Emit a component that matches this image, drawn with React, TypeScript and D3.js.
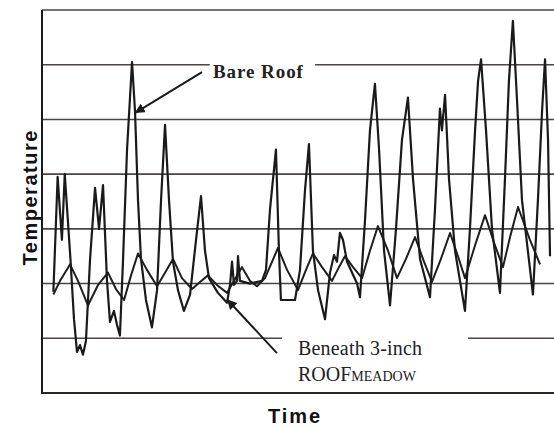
import React, { useEffect, useRef } from 'react';
import * as d3 from 'd3';

// Time in hours since start of record, temperature in deg F
const bareHours = [8, 11, 14, 16, 20, 22.5, 24.6, 26.7, 28.8, 30.9,
  33.8, 37.3, 40.1, 42.9, 45.7, 47.8, 50.6, 52.7, 54.8, 57,
  59.8, 63.3, 65.4, 67.5, 69.6, 73.1, 77.3, 80.9, 83.7, 86.5,
  89.3, 92.1, 95.6, 99.8, 104.1, 108.3, 111.8, 114.6, 117.4, 123.7,
  130.1, 132.2, 133.6, 135, 137.1, 137.8, 139.2, 146.2, 154.7, 157.5,
  160.3, 164.5, 166.6, 168, 177.9, 181.4, 184.9, 187.7, 190.5, 194.1,
  199, 202.5, 205.3, 207.4, 209.5, 211.6, 214.5, 221.5, 223.6, 227.1,
  230.6, 234.1, 237, 240.5, 244.7, 248.9, 253.1, 257.3, 260.9, 265.8,
  272.8, 276.3, 279.8, 281.2, 283.4, 286.2, 290.4, 297.4, 300.9, 304.5,
  306.6, 308.7, 312.2, 316.4, 322, 325.5, 328.3, 331.1, 334, 337.5,
  345.2, 348.7, 351.6, 353.7, 355.8, 357.2];
const bareTemps = [77, 119, 96, 120, 89, 67, 55, 57.5, 54, 59,
  89, 115, 100, 116, 81, 66, 70, 65, 61, 89,
  129, 161, 143, 110.5, 89, 74, 64, 77.6, 110.5, 138,
  110.5, 88, 77.6, 70, 76, 96, 112, 92, 82, 76.6,
  73, 79.5, 88, 79.5, 81, 90, 81, 80, 81, 85,
  107, 129, 92, 74, 74, 85, 114, 131, 92, 77.6,
  67, 84, 90.4, 88, 98.5, 96, 88, 80, 75, 103,
  136, 153, 129, 92, 72, 100, 132.5, 148, 118, 89,
  75, 107, 144, 136, 149, 118, 92, 70, 100, 136,
  154, 162, 136, 100, 76.6, 118, 154, 176, 147, 110.5,
  76, 110.5, 143, 162, 132.5, 90];

const meadowHours = [8, 12.7, 19.7, 25.3, 32.3, 39.4, 46.4, 52, 57.7, 62.6,
  67.5, 73.8, 80.9, 86.5, 92.1, 98.4, 105.5, 111.1, 116.7, 123,
  130.1, 135, 140.6, 146.2, 151.2, 156.8, 165.9, 172.3, 180, 185.6,
  190.5, 196.9, 203.9, 208.8, 213, 218.7, 225, 230.6, 236.2, 243.3,
  249.6, 255.9, 262.3, 268.6, 274.2, 280.5, 286.9, 292.5, 297.4, 304.5,
  311.5, 317.8, 324.1, 329.1, 334.7, 343.1, 350.2];
const meadowTemps = [76, 81, 87, 81, 72, 79.5, 84, 78, 74, 83,
  91, 85, 79, 84, 89, 82, 78, 80.6, 83, 79.5,
  76.6, 81, 86, 81, 79, 82, 93, 85, 77.6, 85,
  91, 86, 81, 86, 90, 86, 82, 92, 101, 92,
  82, 89, 97, 88, 80.6, 89, 98.5, 90, 82, 94,
  105, 95, 86, 97, 108, 96, 87];

// horizontal grid values (no tick labels in the original)
const gridTemps = [60, 80, 100, 120, 140, 160, 180];
// gaps in grid lines where the callout labels sit: [temp, fromHour, toHour]
const gridGaps = [[160, 118, 192], [60, 168.7, 299.5]];

// callouts: arrow tail/tip and label anchor, in [hour, temp]
const bareArrow = [[112.5, 157.3], [65.8, 142.5]];
const bareLabelPos = [120.2, 155.3];
const meadowArrow = [[165.2, 54.6], [130.5, 74]];
const meadowLabelPos = [180, 53.9];
const meadowLabel2Pos = [180, 44.5];

export default function App() {
  const ref = useRef<SVGSVGElement>(null);

  useEffect(() => {
    const svg = d3.select(ref.current);
    svg.selectAll('*').remove();

    const width = 554;
    const height = 427;
    const margin = { top: 10, right: 0, bottom: 34, left: 42 };

    const x = d3.scaleLinear().domain([0, 360]).range([margin.left, width - margin.right]);
    const y = d3.scaleLinear().domain([40, 180]).range([height - margin.bottom, margin.top]);

    svg.append('rect').attr('width', width).attr('height', height).attr('fill', '#fff');

    // arrow head marker
    svg.append('defs').append('marker')
      .attr('id', 'arrowHead')
      .attr('viewBox', '0 0 10 10')
      .attr('refX', 9).attr('refY', 5)
      .attr('markerWidth', 5).attr('markerHeight', 5)
      .attr('orient', 'auto')
      .append('path').attr('d', 'M0,0 L10,5 L0,10 Z').attr('fill', '#1a1a1a');

    // grid lines, split where the labels are
    gridTemps.forEach(t => {
      const gap = gridGaps.find(g => g[0] === t);
      const segs = gap ? [[0, gap[1]], [gap[2], 360]] : [[0, 360]];
      segs.forEach(s => {
        svg.append('line')
          .attr('x1', x(s[0])).attr('x2', x(s[1]))
          .attr('y1', y(t)).attr('y2', y(t))
          .attr('stroke', '#4a4540').attr('stroke-width', 1.6);
      });
    });

    // axes frame (left and bottom)
    svg.append('line')
      .attr('x1', x(0)).attr('x2', x(0))
      .attr('y1', y(180)).attr('y2', y(40))
      .attr('stroke', '#1a1a1a').attr('stroke-width', 2);
    svg.append('line')
      .attr('x1', x(0) - 1).attr('x2', x(360))
      .attr('y1', y(40)).attr('y2', y(40))
      .attr('stroke', '#2a2520').attr('stroke-width', 2);

    const line = d3.line<number>()
      .x(d => d)
      .y(d => d);

    const bare = bareHours.map((h, i) => [x(h), y(bareTemps[i])] as [number, number]);
    const meadow = meadowHours.map((h, i) => [x(h), y(meadowTemps[i])] as [number, number]);
    const pathGen = d3.line();

    svg.append('path')
      .attr('d', pathGen(meadow))
      .attr('fill', 'none')
      .attr('stroke', '#1e1e1e')
      .attr('stroke-width', 2)
      .attr('stroke-linejoin', 'round');

    svg.append('path')
      .attr('d', pathGen(bare))
      .attr('fill', 'none')
      .attr('stroke', '#1a1a1a')
      .attr('stroke-width', 2.2)
      .attr('stroke-linejoin', 'round');

    // callout arrows
    [bareArrow, meadowArrow].forEach(a => {
      svg.append('line')
        .attr('x1', x(a[0][0])).attr('y1', y(a[0][1]))
        .attr('x2', x(a[1][0])).attr('y2', y(a[1][1]))
        .attr('stroke', '#1a1a1a').attr('stroke-width', 2)
        .attr('marker-end', 'url(#arrowHead)');
    });

    // callout labels
    svg.append('text')
      .attr('x', x(bareLabelPos[0])).attr('y', y(bareLabelPos[1]))
      .attr('font-family', 'Liberation Serif, Times New Roman, serif')
      .attr('font-weight', 'bold')
      .attr('font-size', 19)
      .attr('fill', '#222')
      .attr('textLength', 90)
      .text('Bare Roof');

    svg.append('text')
      .attr('x', x(meadowLabelPos[0])).attr('y', y(meadowLabelPos[1]))
      .attr('font-family', 'Liberation Serif, Times New Roman, serif')
      .attr('font-size', 20)
      .attr('fill', '#222')
      .attr('textLength', 124)
      .text('Beneath 3-inch');

    const t2 = svg.append('text')
      .attr('x', x(meadowLabel2Pos[0])).attr('y', y(meadowLabel2Pos[1]))
      .attr('font-family', 'Liberation Serif, Times New Roman, serif')
      .attr('font-size', 20)
      .attr('fill', '#222');
    t2.append('tspan').text('ROOF');
    t2.append('tspan').attr('font-size', 14).text('MEADOW');

    // axis titles
    svg.append('text')
      .attr('transform', `translate(37,198) rotate(-90)`)
      .attr('text-anchor', 'middle')
      .attr('font-family', 'Liberation Sans, Arial, sans-serif')
      .attr('font-weight', 'bold')
      .attr('font-size', 20)
      .attr('fill', '#111')
      .attr('textLength', 135)
      .text('Temperature');

    svg.append('text')
      .attr('x', 294).attr('y', 423)
      .attr('text-anchor', 'middle')
      .attr('font-family', 'Liberation Sans, Arial, sans-serif')
      .attr('font-weight', 'bold')
      .attr('font-size', 20)
      .attr('fill', '#111')
      .attr('textLength', 52)
      .text('Time');
  }, []);

  return (
    <svg ref={ref} width={554} height={427}
      style={{ position: 'absolute', left: 0, top: 0, display: 'block' }} />
  );
}
